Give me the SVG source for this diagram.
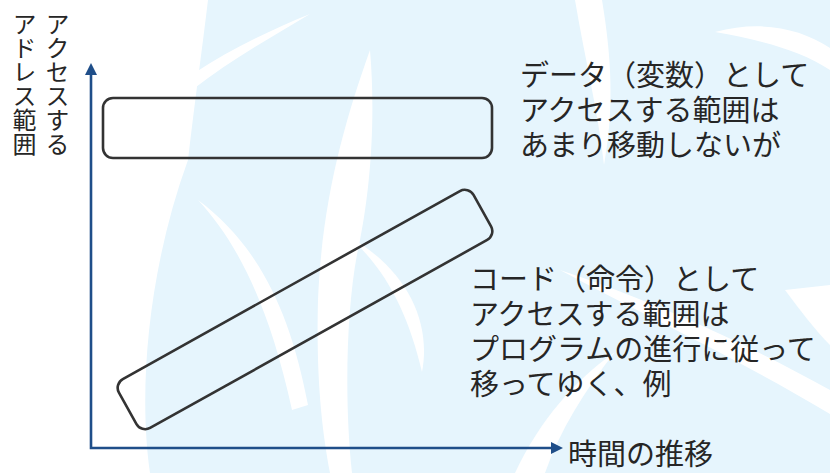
<svg xmlns="http://www.w3.org/2000/svg" width="830" height="473" viewBox="0 0 830 473">
<style>
.bg{fill:#e6f5fd}
.sw{fill:#ffffff}
.box{fill:none;stroke:#333333;stroke-width:2.6}
.axis{fill:none;stroke:#1f4e89;stroke-width:2.6}
.t{font-family:'Noto Sans CJK JP','Noto Sans CJK SC',sans-serif;fill:#262626}
.big{font-size:29px}
.vl{font-size:24px;writing-mode:vertical-rl}
</style>
<defs>
<marker id="ah" viewBox="0 0 12 12" refX="1" refY="6" markerWidth="12" markerHeight="12" markerUnits="userSpaceOnUse" orient="auto-start-reverse">
<path d="M0,0 L12,6 L0,12 Z" fill="#1f4e89"/>
</marker>
</defs>
<rect x="0" y="0" width="830" height="473" fill="#ffffff"/>
<g id="background">
<path class="bg" d="M208,0 L830,0 L830,473 L150,473 C138,390 148,270 188,160 C195,100 202,50 208,0 Z"/>
<path class="sw" d="M370,50 C345,120 322,200 318,300 C316,380 322,430 330,473 L352,473 C344,400 346,300 360,240 C370,190 376,120 370,50 Z"/>
<path class="sw" d="M198,200 C235,240 268,300 292,410 L308,405 C290,310 258,245 198,200 Z"/>
<path class="sw" d="M310,14 C270,30 230,50 196,72 L192,90 C230,60 270,38 310,14 Z"/>
<path class="sw" d="M348,236 C385,268 408,312 422,372 C432,320 405,268 348,236 Z"/>
<path class="sw" d="M575,0 C585,60 598,110 604,165 C614,110 612,60 602,0 Z"/>
<path class="sw" d="M715,32 C760,20 800,28 830,48 L830,70 C800,50 760,40 715,32 Z"/>
<path class="sw" d="M560,270 C650,300 740,340 830,390 L830,414 C740,360 650,318 560,270 Z"/>
<path class="sw" d="M515,473 C540,420 575,380 615,352 C585,390 560,430 545,473 Z"/>
<path class="sw" d="M785,290 C800,310 815,330 830,345 L830,285 Z"/>
</g>
<g id="connectors">
<path class="axis" d="M91,74 L91,448 L552,448" marker-start="url(#ah)" marker-end="url(#ah)"/>
</g>
<g id="y-label">
<text class="t vl" x="57.5" y="12">アクセスする</text>
<text class="t vl" x="24.5" y="12">アドレス範囲</text>
</g>
<g id="x-label">
<text class="t big" x="568" y="465">時間の推移</text>
</g>
<g id="data-range">
<rect class="box" x="103" y="98" width="389" height="60" rx="10" ry="10"/>
</g>
<g id="code-range">
<rect class="box" x="-203" y="-28" width="406" height="56" rx="10" ry="10" transform="translate(305,309.5) rotate(-29.15)"/>
</g>
<g id="data-text">
<text class="t big"><tspan x="520" y="86">データ（変数）として</tspan><tspan x="520" y="121">アクセスする範囲は</tspan><tspan x="520" y="156">あまり移動しないが</tspan></text>
</g>
<g id="code-text">
<text class="t big"><tspan x="470" y="290">コード（命令）として</tspan><tspan x="470" y="325">アクセスする範囲は</tspan><tspan x="470" y="360">プログラムの進行に従って</tspan><tspan x="470" y="395">移ってゆく、例</tspan></text>
</g>
</svg>
